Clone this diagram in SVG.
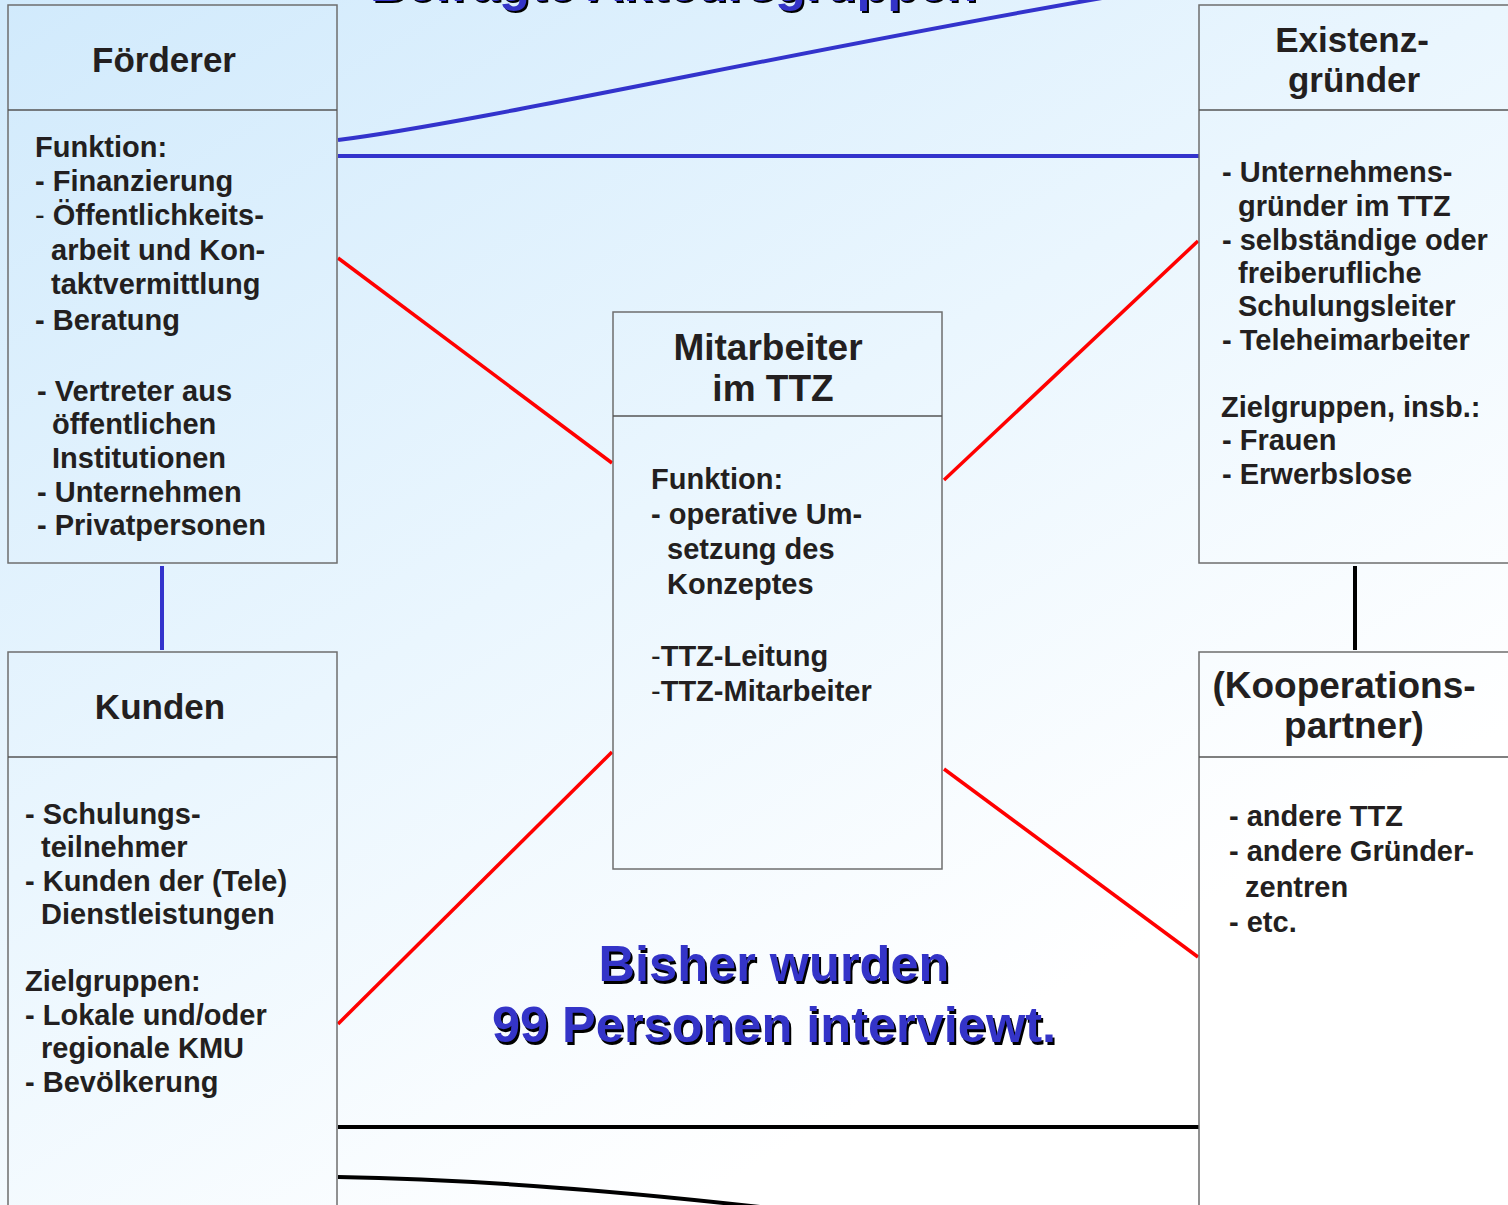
<svg xmlns="http://www.w3.org/2000/svg" width="1508" height="1205" viewBox="0 0 1508 1205">
<defs>
<linearGradient id="bg" gradientUnits="userSpaceOnUse" x1="0" y1="0" x2="700" y2="1200">
<stop offset="0" stop-color="#d1eafc"/>
<stop offset="0.55" stop-color="#eaf6fe"/>
<stop offset="1" stop-color="#ffffff"/>
</linearGradient>
</defs>
<style>
.box{fill:none;stroke:#6e6e6e;stroke-width:1.5}
.div{stroke:#555;stroke-width:1.3}
.hd{font-family:"Liberation Sans",Arial,sans-serif;font-weight:bold;font-size:35px;fill:#231f20;text-anchor:middle}
.hl{font-size:37px}
.tx{font-family:"Liberation Sans",Arial,sans-serif;font-weight:bold;font-size:29px;fill:#231f20}
.thin{font-weight:normal}
.big{font-family:"Liberation Sans",Arial,sans-serif;font-weight:bold;font-size:50.5px;text-anchor:middle}
.title{font-family:"Liberation Sans",Arial,sans-serif;font-weight:bold;font-size:50.5px}
.blue{fill:#3434c8}
.shadow{fill:#000}
.bl{stroke:#3333cc;stroke-width:4;fill:none}
.rd{stroke:#ff0000;stroke-width:3.5;fill:none}
.bk{stroke:#000;stroke-width:4;fill:none}
</style>
<rect x="0" y="0" width="1508" height="1205" fill="url(#bg)"/>

<g id="title">
<text class="title shadow" x="372" y="2.5">Befragte Akteursgruppen</text>
<text class="title blue" x="370" y="0.5">Befragte Akteursgruppen</text>
</g>

<g id="connectors">
<path class="bl" d="M338,140 C480,122 800,50 1102,-2"/>
<line class="bl" x1="338" y1="156" x2="1199" y2="156"/>
<line class="bl" x1="162" y1="566" x2="162" y2="650"/>
<line class="bk" x1="1355" y1="566" x2="1355" y2="650"/>
<line class="rd" x1="338" y1="258" x2="612" y2="463"/>
<line class="rd" x1="944" y1="480" x2="1198" y2="241"/>
<line class="rd" x1="338" y1="1024" x2="612" y2="752"/>
<line class="rd" x1="944" y1="769" x2="1198" y2="957"/>
<line class="bk" x1="338" y1="1127" x2="1199" y2="1127"/>
<path class="bk" d="M338,1177 Q520,1180 760,1207"/>
</g>

<g id="foerderer">
<rect class="box" x="8" y="5" width="329" height="558"/>
<line class="div" x1="8" y1="110" x2="337" y2="110"/>
<text class="hd" x="164" y="72">Förderer</text>
<text class="tx" x="35" y="157">Funktion:</text>
<text class="tx" x="35" y="191">- Finanzierung</text>
<text class="tx" x="35" y="225"><tspan class="thin">-</tspan> Öffentlichkeits-</text>
<text class="tx" x="51" y="260">arbeit und Kon-</text>
<text class="tx" x="51" y="294">taktvermittlung</text>
<text class="tx" x="35" y="330">- Beratung</text>
<text class="tx" x="37" y="401">- Vertreter aus</text>
<text class="tx" x="52" y="434">öffentlichen</text>
<text class="tx" x="52" y="468">Institutionen</text>
<text class="tx" x="37" y="502">- Unternehmen</text>
<text class="tx" x="37" y="535">- Privatpersonen</text>
</g>

<g id="kunden">
<rect class="box" x="8" y="652" width="329" height="600"/>
<line class="div" x1="8" y1="757" x2="337" y2="757"/>
<text class="hd" x="160" y="719">Kunden</text>
<text class="tx" x="25" y="824">- Schulungs-</text>
<text class="tx" x="41" y="857">teilnehmer</text>
<text class="tx" x="25" y="891">- Kunden der (Tele)</text>
<text class="tx" x="41" y="924">Dienstleistungen</text>
<text class="tx" x="25" y="991">Zielgruppen:</text>
<text class="tx" x="25" y="1025">- Lokale und/oder</text>
<text class="tx" x="41" y="1058">regionale KMU</text>
<text class="tx" x="25" y="1092">- Bevölkerung</text>
</g>

<g id="mitarbeiter">
<rect class="box" x="613" y="312" width="329" height="557"/>
<line class="div" x1="613" y1="416" x2="942" y2="416"/>
<text class="hd hl" x="768" y="360">Mitarbeiter</text>
<text class="hd hl" x="773" y="401">im TTZ</text>
<text class="tx" x="651" y="489">Funktion:</text>
<text class="tx" x="651" y="524">- operative Um-</text>
<text class="tx" x="667" y="559">setzung des</text>
<text class="tx" x="667" y="594">Konzeptes</text>
<text class="tx" x="651" y="666"><tspan class="thin">-</tspan>TTZ-Leitung</text>
<text class="tx" x="651" y="701"><tspan class="thin">-</tspan>TTZ-Mitarbeiter</text>
</g>

<g id="existenzgruender">
<rect class="box" x="1199" y="5" width="340" height="558"/>
<line class="div" x1="1199" y1="110" x2="1508" y2="110"/>
<text class="hd" x="1352" y="52">Existenz-</text>
<text class="hd" x="1354" y="92">gründer</text>
<text class="tx" x="1222" y="182">- Unternehmens-</text>
<text class="tx" x="1238" y="216">gründer im TTZ</text>
<text class="tx" x="1222" y="250">- selbständige oder</text>
<text class="tx" x="1238" y="283">freiberufliche</text>
<text class="tx" x="1238" y="316">Schulungsleiter</text>
<text class="tx" x="1222" y="350">- Teleheimarbeiter</text>
<text class="tx" x="1221" y="417">Zielgruppen, insb.:</text>
<text class="tx" x="1222" y="450">- Frauen</text>
<text class="tx" x="1222" y="484">- Erwerbslose</text>
</g>

<g id="kooperationspartner">
<rect class="box" x="1199" y="652" width="340" height="600"/>
<line class="div" x1="1199" y1="757" x2="1508" y2="757"/>
<text class="hd hl" x="1344" y="698">(Kooperations-</text>
<text class="hd hl" x="1354" y="738">partner)</text>
<text class="tx" x="1229" y="826">- andere TTZ</text>
<text class="tx" x="1229" y="861">- andere Gründer-</text>
<text class="tx" x="1245" y="897">zentren</text>
<text class="tx" x="1229" y="932">- etc.</text>
</g>

<g id="summary">
<text class="big shadow" x="776" y="983.5">Bisher wurden</text>
<text class="big blue" x="774" y="981">Bisher wurden</text>
<text class="big shadow" x="776" y="1044.5">99 Personen interviewt.</text>
<text class="big blue" x="774" y="1042">99 Personen interviewt.</text>
</g>
</svg>
